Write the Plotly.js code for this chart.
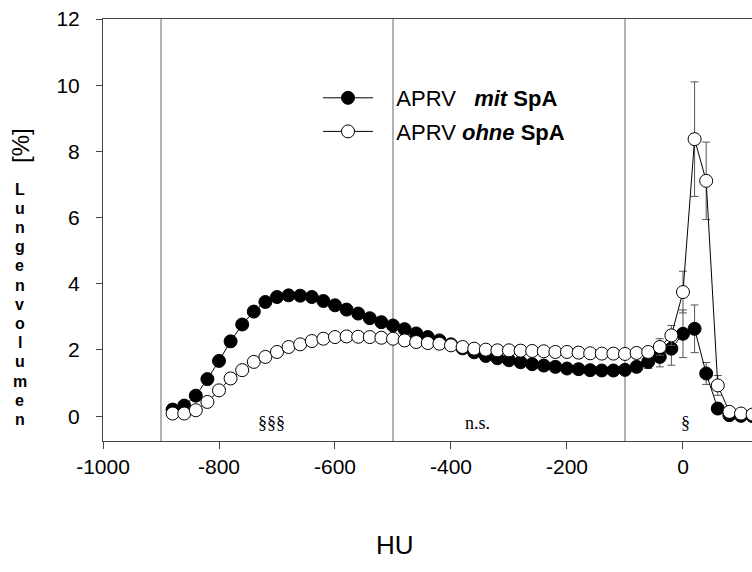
<!DOCTYPE html>
<html>
<head>
<meta charset="utf-8">
<script src="https://cdn.plot.ly/plotly-3.0.1.min.js"></script>
<style>html,body{margin:0;padding:0;background:#fff;}#chart{width:752px;height:572px;}</style>
</head>
<body>
<div id="chart"></div>
<script>
// Hounsfield units (x categories)
const hu = [-880,-860,-840,-820,-800,-780,-760,-740,-720,-700,
            -680,-660,-640,-620,-600,-580,-560,-540,-520,-500,
            -480,-460,-440,-420,-400,-380,-360,-340,-320,-300,
            -280,-260,-240,-220,-200,-180,-160,-140,-120,-100,
            -80,-60,-40,-20,0,20,40,60,80,100,120];
// APRV mit SpA (filled)
const mitSpA = [0.2,0.32,0.62,1.12,1.67,2.26,2.77,3.16,3.45,3.6,
                3.65,3.64,3.6,3.48,3.35,3.22,3.1,2.96,2.84,2.74,
                2.63,2.5,2.39,2.29,2.17,2.05,1.93,1.82,1.75,1.69,
                1.63,1.57,1.53,1.49,1.44,1.42,1.39,1.38,1.38,1.4,
                1.49,1.64,1.79,2.04,2.49,2.64,1.29,0.23,0.03,0.01,0.0];
const mitErr = [0.05,0.06,0.08,0.1,0.15,0.15,0.15,0.15,0.12,0.12,
                0.1,0.1,0.08,0.08,0.07,0.07,0.06,0.06,0.06,0.06,
                0.05,0.05,0.05,0.05,0.05,0.05,0.05,0.05,0.05,0.05,
                0.05,0.05,0.05,0.05,0.05,0.05,0.05,0.05,0.05,0.06,
                0.1,0.2,0.3,0.5,0.72,0.72,0.33,0.1,0.03,0.02,0.01];
// APRV ohne SpA (open)
const ohneSpA = [0.08,0.08,0.18,0.43,0.78,1.14,1.39,1.64,1.79,1.94,
                 2.09,2.17,2.27,2.34,2.39,2.41,2.4,2.39,2.37,2.34,
                 2.29,2.24,2.21,2.19,2.14,2.09,2.04,2.01,1.99,1.99,
                 1.98,1.97,1.96,1.94,1.94,1.92,1.9,1.89,1.89,1.88,
                 1.91,1.94,2.09,2.44,3.75,8.37,7.11,0.93,0.13,0.08,0.05];
const ohneErr = [0.03,0.03,0.05,0.08,0.1,0.12,0.12,0.12,0.12,0.12,
                 0.12,0.12,0.1,0.1,0.1,0.08,0.08,0.08,0.07,0.07,
                 0.06,0.06,0.06,0.06,0.06,0.06,0.06,0.06,0.06,0.06,
                 0.06,0.06,0.06,0.06,0.06,0.06,0.06,0.06,0.06,0.06,
                 0.08,0.15,0.25,0.3,0.63,1.73,1.17,0.3,0.05,0.02,0.01];
// region boundaries and significance labels
const boundaries = [-900,-500,-100];
const sigLabels = ['§§§','n.s.','§'];
const sigX = [-710,-355,5];
const xTicks = [-1000,-800,-600,-400,-200,0];
const xTickText = ['-1000','-800','-600','-400','-200','0'];
const yTicks = [0,2,4,6,8,10,12];
const yLetters = 'Lungenvolumen';

const FONT = 'Liberation Sans, Arial, sans-serif';
const NB = '\u00A0';

const traces = [
  {x: hu, y: mitSpA, type:'scatter', mode:'lines+markers',
   name: NB+NB+NB+'APRV'+NB+NB+NB+'<b><i>mit</i> SpA</b>',
   legendgroup:'a',
   line:{color:'#000', width:1},
   marker:{symbol:'circle', size:13, color:'#000', line:{color:'#000', width:1}},
   error_y:{type:'data', array: mitErr, visible:true, color:'#555', thickness:1, width:4}},
  {x: hu, y: ohneSpA, type:'scatter', mode:'lines+markers',
   name: NB+NB+NB+'APRV'+NB+'<b><i>ohne</i> SpA</b>',
   legendgroup:'b',
   line:{color:'#000', width:1},
   marker:{symbol:'circle', size:13, color:'#fff', line:{color:'#000', width:1}},
   error_y:{type:'data', array: ohneErr, visible:true, color:'#555', thickness:1, width:4}}
];

const plotTop = 19, plotBottom = 441, plotLeft = 103;
const ph = plotBottom - plotTop, pw = 752 - plotLeft;
const annotations = [];
sigLabels.forEach((t,i)=>annotations.push({x: sigX[i], y: -0.2, xref:'x', yref:'y', text:t, showarrow:false,
  xanchor:'center', yanchor:'middle',
  font:{family:'Liberation Serif, Times New Roman, serif', size:18, color:'#000'}}));
annotations.push({x:-497, xref:'x', y:(plotBottom-545)/ph, yref:'paper', text:'HU', showarrow:false,
  xanchor:'center', yanchor:'middle', font:{family:FONT, size:26, color:'#000'}});
annotations.push({x:(20-plotLeft)/pw, xref:'paper', y:(plotBottom-145)/ph, yref:'paper', text:'[%]', textangle:-90, showarrow:false,
  xanchor:'center', yanchor:'middle', font:{family:FONT, size:24, color:'#000'}});
yLetters.split('').forEach((ch,i)=>annotations.push({x:(20-plotLeft)/pw, xref:'paper', y:(plotBottom-(189+19.2*i))/ph, yref:'paper',
  text:'<b>'+ch+'</b>', showarrow:false, xanchor:'center', yanchor:'middle', font:{family:FONT, size:16, color:'#000'}}));

const shapes = boundaries.map(b=>({type:'line', xref:'x', yref:'paper', x0:b, x1:b, y0:0, y1:1,
  line:{color:'#999', width:1.5}, layer:'below'}));

const layout = {
  width:752, height:572,
  margin:{l:plotLeft, r:0, t:plotTop, b:572-plotBottom, pad:0},
  paper_bgcolor:'#fff', plot_bgcolor:'#fff',
  font:{family:FONT, color:'#000'},
  showlegend:true,
  legend:{x:(318-plotLeft)/pw, y:(plotBottom-77)/ph, xanchor:'left', yanchor:'top', bgcolor:'rgba(0,0,0,0)',
          font:{family:FONT, size:22, color:'#000'}, traceorder:'grouped', tracegroupgap:2, itemwidth:50},
  xaxis:{range:[-1000,119], tickvals:xTicks, ticktext:xTickText, ticks:'outside', ticklen:7, tickcolor:'#444', showgrid:false, zeroline:false,
         showline:true, linecolor:'#444', linewidth:1, mirror:true, tickfont:{family:FONT, size:21, color:'#000'}},
  yaxis:{range:[-0.75,12], tickvals:yTicks, ticks:'outside', ticklen:6, tickcolor:'#444', showgrid:false, zeroline:false,
         showline:true, linecolor:'#444', linewidth:1, ticklabelstandoff:12, tickfont:{family:FONT, size:21, color:'#000'}},
  annotations: annotations,
  shapes: shapes
};
Plotly.newPlot('chart', traces, layout, {displayModeBar:false, staticPlot:true});
</script>
</body>
</html>
